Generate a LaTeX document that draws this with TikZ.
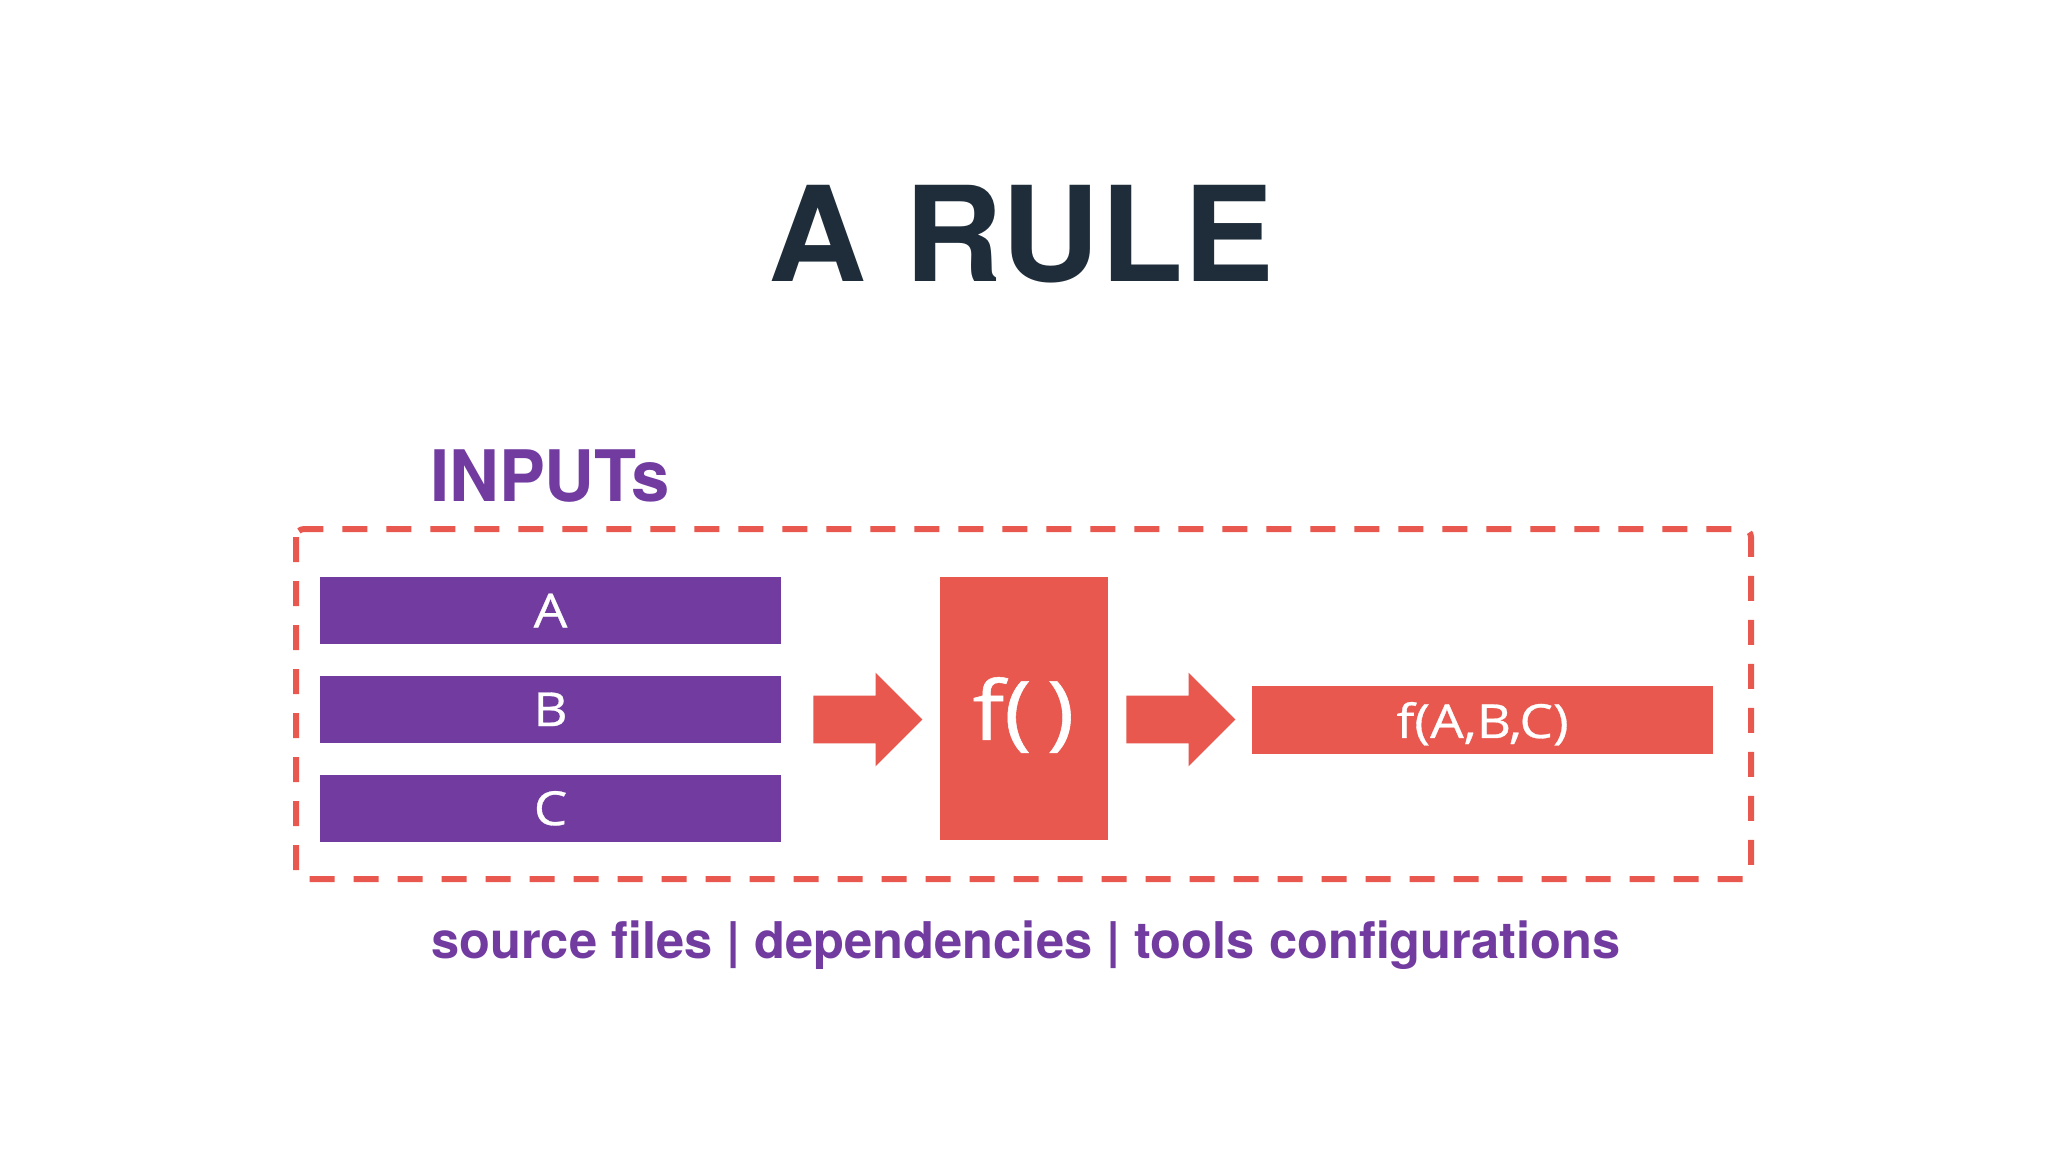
\documentclass[tikz,border=0pt]{standalone}
\usepackage{fontspec}
\setmainfont{TeX Gyre Heros}
\newfontfamily\labelfont[FakeBold=0.6]{Open Sans}
\usetikzlibrary{positioning,shapes.arrows}

\definecolor{ruleink}{HTML}{1F2D3A}
\definecolor{rulepurple}{HTML}{713BA0}
\definecolor{rulered}{HTML}{E8584F}

\newcommand{\widelabel}[1]{\scalebox{1.13}[1]{#1}}

\begin{document}
\begin{tikzpicture}[
                            x=0.5pt,
                            y=-0.5pt,
                            inner sep=0pt,
                            text depth=0pt
                        ]
                        \tikzstyle{inbar}=[fill=rulepurple,text=white,minimum width=230.5pt,minimum height=33.5pt,font=\labelfont\fontsize{23.5}{24}\selectfont]
                        \tikzstyle{outbar}=[fill=rulered,text=white,minimum width=230.5pt,minimum height=34pt,font=\labelfont\fontsize{23.5}{24}\selectfont]
                        \tikzstyle{funcbox}=[fill=rulered,text=white,minimum width=84pt,minimum height=131.5pt,font=\labelfont\fontsize{41}{42}\selectfont]
                        \tikzstyle{flow}=[single arrow,fill=rulered,anchor=tail,inner xsep=0pt,inner ysep=11.75pt,minimum height=54.5pt,single arrow head extend=11.5pt,text depth=0pt,text height=0pt]
                        \tikzstyle{heading}=[anchor=base,font=\bfseries]

                        \fill[white] (0,0) rectangle (2048,1152);

                        \node[heading,text=ruleink,font=\bfseries\fontsize{66}{66}\selectfont] (title) at (1021,281) {\scalebox{1.03}[1]{A RULE}};
                        \node[heading,text=rulepurple,font=\bfseries\fontsize{35.5}{36}\selectfont] (inputs) at (550,501) {\scalebox{0.97}[1]{INPUTs}};

                        \draw[rulered,line width=3pt,dash pattern=on 12.5pt off 9.5pt,rounded corners=4pt] (296,529) rectangle (1751,879);

                        \node[inbar]                  (A) at (550.5,610.5) {\widelabel{A}};
                        \node[inbar,below=15.5pt of A] (B) {\widelabel{B}};
                        \node[inbar,below=15.5pt of B] (C) {\widelabel{C}};

                        \node[funcbox] (f) at (1023.5,708.5) {\widelabel{f(\,)}};
                        \node[outbar]  (out) at (1482.5,720) {\widelabel{f(A,B,C)}};

                        \node[flow] (toF)   at (813,719.5) {};
                        \node[flow] (toOut) at (1126,719.5) {};

                        \node[heading,text=rulepurple,font=\bfseries\fontsize{25.3}{26}\selectfont] (kinds) at (1026,958) {source files | dependencies | tools configurations};
                    \end{tikzpicture}
\end{document}
